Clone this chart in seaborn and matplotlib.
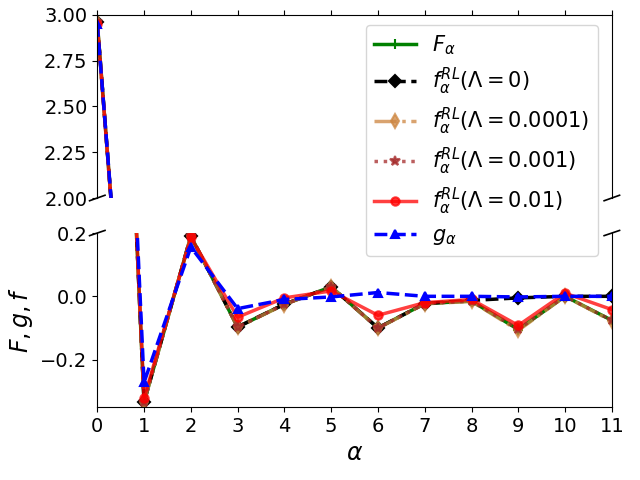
import numpy as np
import matplotlib
matplotlib.use("Agg")
import matplotlib.pyplot as plt
import seaborn as sns

# values
alpha = np.arange(12)
F_alpha = [2.96, -0.335, 0.19, -0.097, -0.025, 0.030, -0.100, -0.023, -0.015, -0.105, 0.000, -0.076]
f_lam0 = [2.96, -0.335, 0.191, -0.097, -0.025, 0.030, -0.100, -0.023, -0.013, -0.005, 0.000, 0.000]
f_lam1e4 = [2.96, -0.335, 0.190, -0.098, -0.026, 0.030, -0.101, -0.024, -0.016, -0.108, 0.000, -0.078]
f_lam1e3 = [2.96, -0.333, 0.190, -0.097, -0.025, 0.029, -0.100, -0.023, -0.015, -0.104, 0.000, -0.076]
f_lam1e2 = [2.95, -0.322, 0.186, -0.066, -0.005, 0.017, -0.060, -0.020, -0.010, -0.092, 0.010, -0.042]
g_alpha = [2.95, -0.272, 0.156, -0.039, -0.010, -0.002, 0.012, 0.000, 0.000, -0.002, 0.000, 0.000]

series = [
    (F_alpha, r'$F_\alpha$', dict(color='green', linestyle='-', marker='+', markersize=7, alpha=1.0)),
    (f_lam0, r'$f^{RL}_\alpha(\Lambda=0)$', dict(color='black', linestyle='--', marker='D', markersize=6, alpha=1.0)),
    (f_lam1e4, r'$f^{RL}_\alpha(\Lambda=0.0001)$', dict(color='peru', linestyle='-.', marker='d', markersize=7, alpha=0.75)),
    (f_lam1e3, r'$f^{RL}_\alpha(\Lambda=0.001)$', dict(color='brown', linestyle=':', marker='*', markersize=7, alpha=0.75)),
    (f_lam1e2, r'$f^{RL}_\alpha(\Lambda=0.01)$', dict(color='red', linestyle='-', marker='o', markersize=6, alpha=0.75)),
    (g_alpha, r'$g_\alpha$', dict(color='blue', linestyle='--', marker='^', markersize=6, alpha=1.0)),
]

fig = plt.figure(figsize=(6.4, 4.8), dpi=100)
ax1 = fig.add_axes([0.152, 0.5875, 0.804, 0.3815])
ax2 = fig.add_axes([0.152, 0.152, 0.804, 0.3625], sharex=ax1)

for ax in (ax1, ax2):
    for vals, lab, kw in series:
        sns.lineplot(x=alpha, y=vals, ax=ax, label=lab, linewidth=2.5,
                     markeredgecolor=kw['color'], markeredgewidth=1.5, **kw)
    ax.get_legend().remove()

ax1.set_ylim(2.0, 3.0)
ax2.set_ylim(-0.35, 0.2)
ax2.set_xlim(0, 11)
ax2.set_xticks(range(12))
ax1.set_yticks([2.0, 2.25, 2.5, 2.75, 3.0])
ax2.set_yticks([-0.2, 0.0, 0.2])

ax1.spines['bottom'].set_visible(False)
ax2.spines['top'].set_visible(False)
ax1.xaxis.tick_top()
ax1.tick_params(labeltop=False)
ax2.xaxis.tick_bottom()
for ax in (ax1, ax2):
    ax.tick_params(labelsize=14)
ax1.set_ylabel('')
ax2.set_xlabel(r'$\alpha$', fontsize=17)
ax2.set_ylabel(r'$F, g, f$', fontsize=17)

# break marks
d = 0.015
kw = dict(transform=ax1.transAxes, color='k', clip_on=False, linewidth=1.2)
ax1.plot((-d, +d), (-d, +d), **kw)
ax1.plot((1 - d, 1 + d), (-d, +d), **kw)
kw.update(transform=ax2.transAxes)
ax2.plot((-d, +d), (1 - d, 1 + d), **kw)
ax2.plot((1 - d, 1 + d), (1 - d, 1 + d), **kw)

handles, labels = ax1.get_legend_handles_labels()
fig.legend(handles, labels, loc='upper right', fontsize=15, labelspacing=0.42,
           bbox_to_anchor=(598 / 640, 1 - 25 / 480), borderaxespad=0)

fig.savefig('out.png', dpi=100)
